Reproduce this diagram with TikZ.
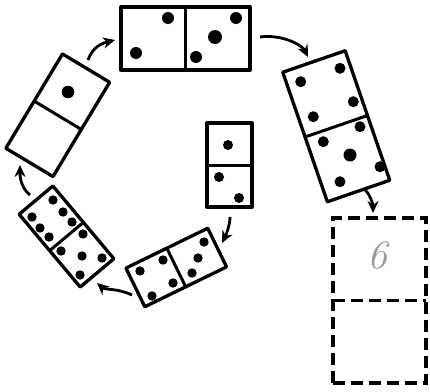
\documentclass[tikz,border=0pt]{standalone}
\usetikzlibrary{arrows.meta}
\begin{document}
\begin{tikzpicture}[x=1pt,y=-1pt,
  domino/.style={draw, line width=3.3pt, inner sep=0pt, outer sep=0pt, line join=round},
  dashbox/.style={draw, line width=3.3pt, inner sep=0pt, outer sep=0pt, dash pattern=on 12pt off 6pt},
  divider/.style={line width=3pt},
  dashdiv/.style={line width=3pt, dash pattern=on 12pt off 6pt},
  pip/.style={fill=black},
  flow/.style={line width=2.8pt, -{Stealth[length=12pt,width=11pt]}}]
\useasboundingbox (0,0) rectangle (430,391);

% dominoes
\node[domino, minimum width=129pt, minimum height=63pt] (top) at (185.5,38.5) {};
\draw[divider] (top.north) -- (top.south);
\node[domino, minimum width=66pt, minimum height=137pt, rotate=19] (right) at (336.25,126.25) {};
\draw[divider] (right.west) -- (right.east);
\node[domino, minimum width=55pt, minimum height=110pt, rotate=-31] (left) at (57.75,115.25) {};
\draw[divider] (left.west) -- (left.east);
\node[domino, minimum width=45pt, minimum height=84pt] (mid) at (229.5,165) {};
\draw[divider] (mid.west) -- (mid.east);
\node[domino, minimum width=44pt, minimum height=95pt, rotate=40] (bl) at (66.5,236.5) {};
\draw[divider] (bl.west) -- (bl.east);
\node[domino, minimum width=91pt, minimum height=43pt, rotate=26] (bot) at (176.25,267.5) {};
\draw[divider] (bot.north) -- (bot.south);
\node[dashbox, minimum width=93pt, minimum height=165pt] (dash) at (379.5,300.5) {};
\draw[dashdiv] (dash.west) -- (dash.east);
\node[text=black!40, font=\itshape\fontsize{40}{40}\selectfont] (six) at (377,256) {6};

% pips: top domino
\fill[pip] (168,18) circle (6pt) (136,53) circle (6pt);
\fill[pip] (236,18) circle (6pt) (215,37) circle (7pt) (196,57) circle (6pt);
% right domino
\fill[pip] (300.7,81.7) circle (5.5pt) (340,68.3) circle (5.5pt) (353.3,101.7) circle (5.5pt) (313.3,116.7) circle (5.5pt);
\fill[pip] (360,126.7) circle (5.5pt) (323.3,141.7) circle (5.5pt) (350,155) circle (6.5pt) (380,166.7) circle (5.5pt) (340,181.7) circle (5.5pt);
% left domino
\fill[pip] (68,92) circle (6.3pt);
% middle domino
\fill[pip] (228,145) circle (5pt) (219,177) circle (5pt) (239,198) circle (5pt);
% bottom-left domino
\fill[pip] (53,200) circle (4.7pt) (63,212) circle (4.7pt) (72,222) circle (4.7pt)
           (32,217) circle (4.7pt) (40,228) circle (4.7pt) (49,237) circle (4.7pt);
\fill[pip] (83,234) circle (4.7pt) (61,251) circle (4.7pt) (82,256) circle (4.7pt)
           (102,258) circle (4.7pt) (80,275) circle (4.7pt);
% bottom domino
\fill[pip] (140,271) circle (4.7pt) (163,260) circle (4.7pt) (173,283) circle (4.7pt) (152,296) circle (4.7pt);
\fill[pip] (204,242) circle (4.7pt) (198,258) circle (4.7pt) (192,273) circle (4.7pt);

% arrow end points
\coordinate (a1s) at (88,60);   \coordinate (a1e) at (115,40);
\coordinate (a2s) at (260,37);  \coordinate (a2e) at (308,57);
\coordinate (a3s) at (365,190); \coordinate (a3e) at (373,213);
\coordinate (a4s) at (230,217); \coordinate (a4e) at (222,243);
\coordinate (a5s) at (132,295); \coordinate (a5e) at (97,283);
\coordinate (a6s) at (30,195);  \coordinate (a6e) at (20,165);

\draw[flow] (a1s) .. controls +(5,-14) and +(-12,3) .. (a1e);
\draw[flow] (a2s) .. controls +(22,-3) and +(-6,-12) .. (a2e);
\draw[flow] (a3s) .. controls +(5,4) and +(0,-8) .. (a3e);
\draw[flow] (a4s) .. controls +(0,8) and +(4,-8) .. (a4e);
\draw[flow] (a5s) .. controls +(-15,-7) and +(8,7) .. (a5e);
\draw[flow] (a6s) .. controls +(-10,-8) and +(0,10) .. (a6e);
\end{tikzpicture}
\end{document}
